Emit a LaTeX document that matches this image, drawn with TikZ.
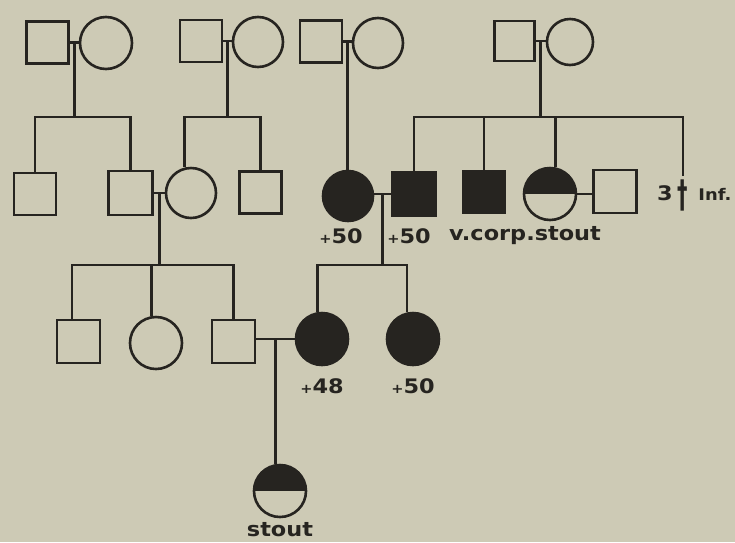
\documentclass[tikz,border=0pt]{standalone}
\usepackage{fontspec}
\newfontfamily\labfont[FakeStretch=1.12]{DejaVu Sans Bold}
\newfontfamily\dagfont[FakeStretch=0.55]{DejaVu Sans Bold}
\definecolor{ink}{RGB}{38,36,32}
\definecolor{paper}{RGB}{205,202,181}
\newcommand\plussm{{\fontsize{13}{13}\selectfont+}}
\tikzset{
  sq/.style={draw, rectangle, minimum size=42pt, inner sep=0pt},
  ci/.style={draw, circle, minimum size=50pt, inner sep=0pt},
  blk/.style={fill=ink},
  halfci/.style={ci, path picture={\fill[ink] (path picture bounding box.west) rectangle (path picture bounding box.north east);}},
  lab/.style={font=\labfont\fontsize{20}{20}\selectfont, inner sep=0pt, text=ink},
}
\begin{document}
\begin{tikzpicture}[x=1pt,y=-1pt,color=ink,line width=2.6pt]
\fill[paper] (0,0) rectangle (735,542);
\useasboundingbox (0,0) rectangle (735,542);
% top row
\node[sq] (a1) at (47.5,42.5) {};
\node[ci,minimum size=52pt] (a2) at (106,43) {};
\node[sq] (b1) at (201,41) {};
\node[ci] (b2) at (258,42) {};
\node[sq] (c1) at (321,41.5) {};
\node[ci] (c2) at (378,43) {};
\node[sq,minimum size=40pt] (d1) at (514.5,41) {};
\node[ci,minimum size=46pt] (d2) at (570,42) {};
% second row
\node[sq] (e1) at (35,194) {};
\node[sq,minimum size=44pt] (e2) at (130.5,193) {};
\node[ci] (f1) at (191,193) {};
\node[sq] (f2) at (260.5,192.5) {};
\node[ci,blk] (g1) at (348,196) {};
\node[sq,blk,minimum size=44pt] (g2) at (414,194) {};
\node[sq,blk] (h1) at (484,192) {};
\node[halfci,minimum size=52pt] (h2) at (550,194) {};
\node[sq,minimum size=43pt] (h3) at (615,191.5) {};
\node[lab] (three) at (665,193) {3};
\node[lab,font=\dagfont\fontsize{38}{38}\selectfont] (dag) at (683,195) {†};
\node[lab,font=\labfont\fontsize{16}{16}\selectfont] (inf) at (715,194) {Inf.};
% third row
\node[sq,minimum size=43pt] (i1) at (78.5,341.5) {};
\node[ci,minimum size=52pt] (i2) at (156,343) {};
\node[sq,minimum size=43pt] (i3) at (233.5,341.5) {};
\node[ci,blk,minimum size=52pt] (j1) at (322,339) {};
\node[ci,blk,minimum size=52pt] (j2) at (413,339) {};
% bottom
\node[halfci,minimum size=52pt] (k) at (280,491) {};
% labels
\node[lab] (l1) at (341,236) {\plussm50};
\node[lab] (l2) at (409,236) {\plussm50};
\node[lab] (l3) at (525,236) {v.corp.stout};
\node[lab] (l4) at (322,386) {\plussm48};
\node[lab] (l5) at (413,386) {\plussm50};
\node[lab] (l6) at (280,530) {stout};
% marriages (horizontal)
\draw (a1.east) -- coordinate (am) (a1.east -| a2.west);
\draw (b1.east) -- coordinate (bm) (b1.east -| b2.west);
\draw (c1.east) -- coordinate (cm) (c1.east -| c2.west);
\draw (d1.east) -- coordinate (dm) (d1.east -| d2.west);
\draw (e2.east) -- coordinate (em) (e2.east -| f1.west);
\draw (g2.west -| g1.east) -- coordinate (gm) (g2.west);
\draw (h2.east) -- (h2.east -| h3.west);
\draw (j1.west -| i3.east) -- coordinate (im) (j1.west);
% sibships
\draw (am) -- (am |- 0,117);
\draw (e1.north) -- (e1.north |- 0,117) -- (e2.north |- 0,117) -- (e2.north);
\draw (bm) -- (bm |- 0,117);
\draw (f1.104) -- (f1.104 |- 0,117) -- (f2.north |- 0,117) -- (f2.north);
\draw (cm) -- (cm |- g1.north);
\draw (dm) -- (dm |- 0,117);
\draw (g2.north) -- (g2.north |- 0,117) -- (dag.north |- 0,117) -- ([yshift=2pt]dag.north);
\draw (h1.north) -- (h1.north |- 0,117);
\draw (h2.79) -- (h2.79 |- 0,117);
\draw (em) -- (em |- 0,265);
\draw ([xshift=-6.5pt]i1.north) -- ([xshift=-6.5pt]i1.north |- 0,265) -- (i3.north |- 0,265) -- (i3.north);
\draw (i2.99) -- (i2.99 |- 0,265);
\draw (gm) -- (gm |- 0,265);
\draw (j1.99) -- (j1.99 |- 0,265) -- (j2.103 |- 0,265) -- (j2.103);
\draw (im) -- (im |- k.north);
\end{tikzpicture}
\end{document}
